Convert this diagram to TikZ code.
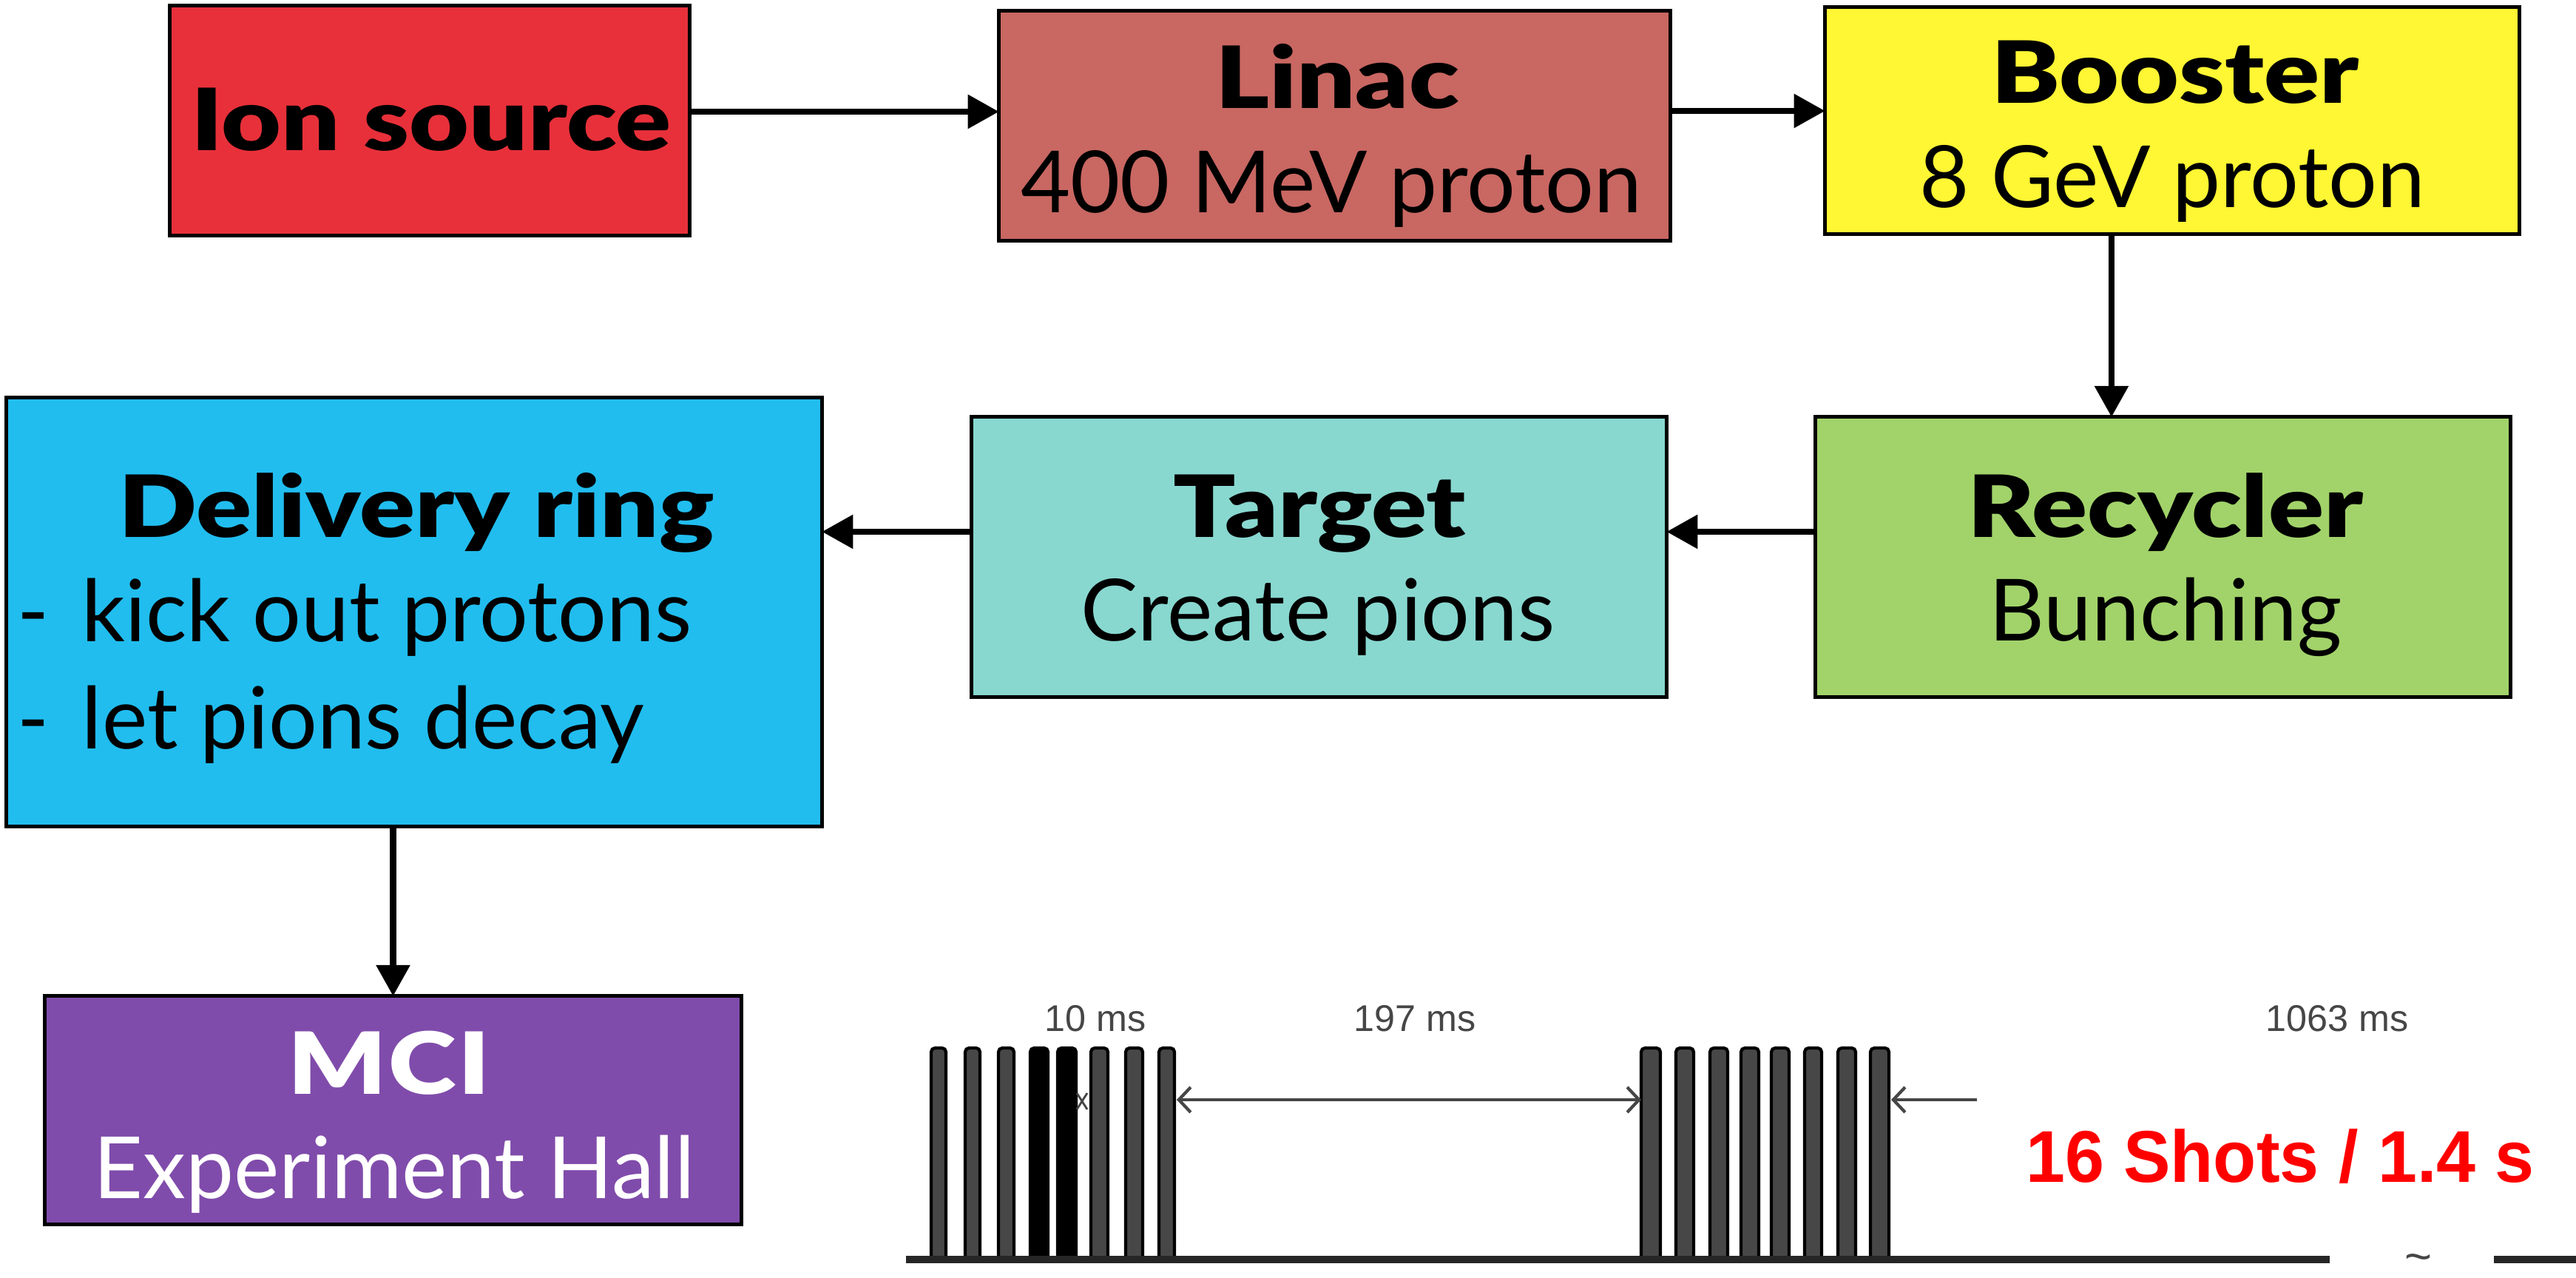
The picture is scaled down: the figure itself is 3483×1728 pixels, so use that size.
\documentclass[tikz,border=0pt]{standalone}
\usepackage{fontspec}
\setmainfont{Lato}[BoldFont={Lato Black}, BoldFeatures={FakeStretch=1.2}]
\newfontfamily\chartfont{Liberation Sans}
\usetikzlibrary{arrows.meta,calc}
\definecolor{ionred}{RGB}{232,48,58}
\definecolor{linaccol}{RGB}{201,103,98}
\definecolor{boostercol}{RGB}{255,246,52}
\definecolor{recyclercol}{RGB}{162,211,106}
\definecolor{targetcol}{RGB}{136,216,208}
\definecolor{deliverycol}{RGB}{33,189,239}
\definecolor{mcicol}{RGB}{128,76,171}
\definecolor{chartgray}{RGB}{70,70,70}
\begin{document}
\begin{tikzpicture}[x=0.01cm,y=-0.01cm,
  box/.style={draw=black, line width=1.4pt, inner sep=0pt, outer sep=0pt},
  titletext/.style={font=\fontsize{33}{40}\selectfont\bfseries, anchor=base, inner sep=0pt},
  subtext/.style={font=\fontsize{33}{40}\selectfont, anchor=base, inner sep=0pt},
  conn/.style={line width=2.5pt, -{Triangle[length=0.42cm,width=0.44cm]}},
  pulse/.style={draw=black, fill=black!72, line width=1.2pt, rounded corners=1.5pt},
  solidpulse/.style={draw=black, fill=black, line width=1.2pt, rounded corners=1.5pt},
  baseline/.style={line width=2.6pt, draw=black!85},
  thinarrow/.style={line width=1.2pt, draw=chartgray, {Straight Barb[length=0.16cm,width=0.34cm]}-{Straight Barb[length=0.16cm,width=0.34cm]}},
  chartlabel/.style={font=\chartfont\fontsize{14.3}{17}\selectfont, text=chartgray, anchor=base, inner sep=0pt}
]
\useasboundingbox (0,0) rectangle (3483,1728);

% boxes
\node[box, fill=ionred, minimum width=7.02cm, minimum height=3.10cm] (ion) at (581,163) {};
\node[box, fill=linaccol, minimum width=9.07cm, minimum height=3.10cm] (linac) at (1804.5,170) {};
\node[box, fill=boostercol, minimum width=9.38cm, minimum height=3.06cm] (booster) at (2937,163) {};
\node[box, fill=recyclercol, minimum width=9.39cm, minimum height=3.78cm] (recycler) at (2924.5,753) {};
\node[box, fill=targetcol, minimum width=9.39cm, minimum height=3.78cm] (target) at (1783.5,753) {};
\node[box, fill=deliverycol, minimum width=11.02cm, minimum height=5.79cm] (delivery) at (560,827.5) {};
\node[box, fill=mcicol, minimum width=9.41cm, minimum height=3.08cm] (mci) at (531.5,1501) {};

% texts
\node[titletext] (iont) at (583,204) {Ion source};
\node[titletext] (linact) at (1808,147) {Linac};
\node[subtext] (linacs) at (1800,288) {400 MeV proton};
\node[titletext] (boostert) at (2941,140) {Booster};
\node[subtext] (boosters) at (2937,281) {8 GeV proton};
\node[titletext] (recyclert) at (2928,727) {Recycler};
\node[subtext] (recyclers) at (2928,867) {Bunching};
\node[titletext] (targett) at (1784,727) {Target};
\node[subtext] (targets) at (1782,867) {Create pions};
\node[titletext] (deliveryt) at (563,727) {Delivery ring};
\node[subtext] (dash1) at (45,868) {-};
\node[subtext, anchor=base west] (deliverys1) at (110,868) {kick out protons};
\node[subtext] (dash2) at (45,1013) {-};
\node[subtext, anchor=base west] (deliverys2) at (110,1013) {let pions decay};
\node[titletext, text=white] (mcit) at (526,1479) {\addfontfeature{LetterSpace=2}MCI};
\node[subtext, text=white] (mcis) at (533,1620) {Experiment Hall};

% connectors
\coordinate (a1) at ([yshift=0.12cm]ion.east);
\draw[conn] (a1) -- (a1 -| linac.west);
\coordinate (a2) at ([yshift=0.20cm]linac.east);
\draw[conn] (a2) -- (a2 -| booster.west);
\coordinate (a5) at ([xshift=-0.82cm]booster.south);
\draw[conn] (a5) -- (a5 |- recycler.north);
\coordinate (a3) at ([yshift=0.34cm]recycler.west);
\draw[conn] (a3) -- (a3 -| target.east);
\coordinate (a4) at ([yshift=0.34cm]target.west);
\draw[conn] (a4) -- (a4 -| delivery.east);
\draw[conn] (delivery.south -| mci.north) -- (mci.north);

% pulse chart
\foreach \xl/\xr in {1259/1279,1305/1325,1350/1371,1475/1498,1522/1545,1567/1588}
  \draw[pulse] (\xl,1703) rectangle (\xr,1417);
\foreach \xl/\xr in {1393/1417,1430/1455}
  \draw[solidpulse] (\xl,1703) rectangle (\xr,1417);
\foreach \xl/\xr in {2219/2245,2266/2290,2312/2336,2354/2378,2395/2419,2440/2463,2485/2509,2529/2554}
  \draw[pulse] (\xl,1703) rectangle (\xr,1417);
\draw[baseline] (1225,1703) -- (3150,1703);
\draw[baseline] (3372,1703) -- (3483,1703);
\node[font=\chartfont\fontsize{18}{20}\selectfont, text=chartgray, inner sep=0pt] (tilde) at (3270,1708) {\textasciitilde};

\coordinate (g1) at (1591,1487);
\coordinate (g2) at (2219,1487);
\draw[thinarrow] (g1) -- (g2);
\coordinate (g3) at (2673,1487);
\coordinate (g4) at (2557,1487);
\draw[line width=1.2pt, draw=chartgray, -{Straight Barb[length=0.16cm,width=0.34cm]}] (g3) -- (g4);
\draw[line width=0.8pt, draw=chartgray] (1456,1478) -- (1463,1489) -- (1456,1500);
\draw[line width=0.8pt, draw=chartgray] (1470,1478) -- (1463,1489) -- (1470,1500);

\node[chartlabel] (l10) at (1481,1394) {10 ms};
\node[chartlabel] (l197) at (1913,1394) {197 ms};
\node[chartlabel] (l1063) at (3160,1394) {1063 ms};
\node[font=\chartfont\bfseries\fontsize{28.2}{32}\selectfont, text=red, anchor=base, inner sep=0pt] (shots) at (3083,1598) {\scalebox{0.96}[1]{16 Shots / 1.4 s}};
\end{tikzpicture}
\end{document}
